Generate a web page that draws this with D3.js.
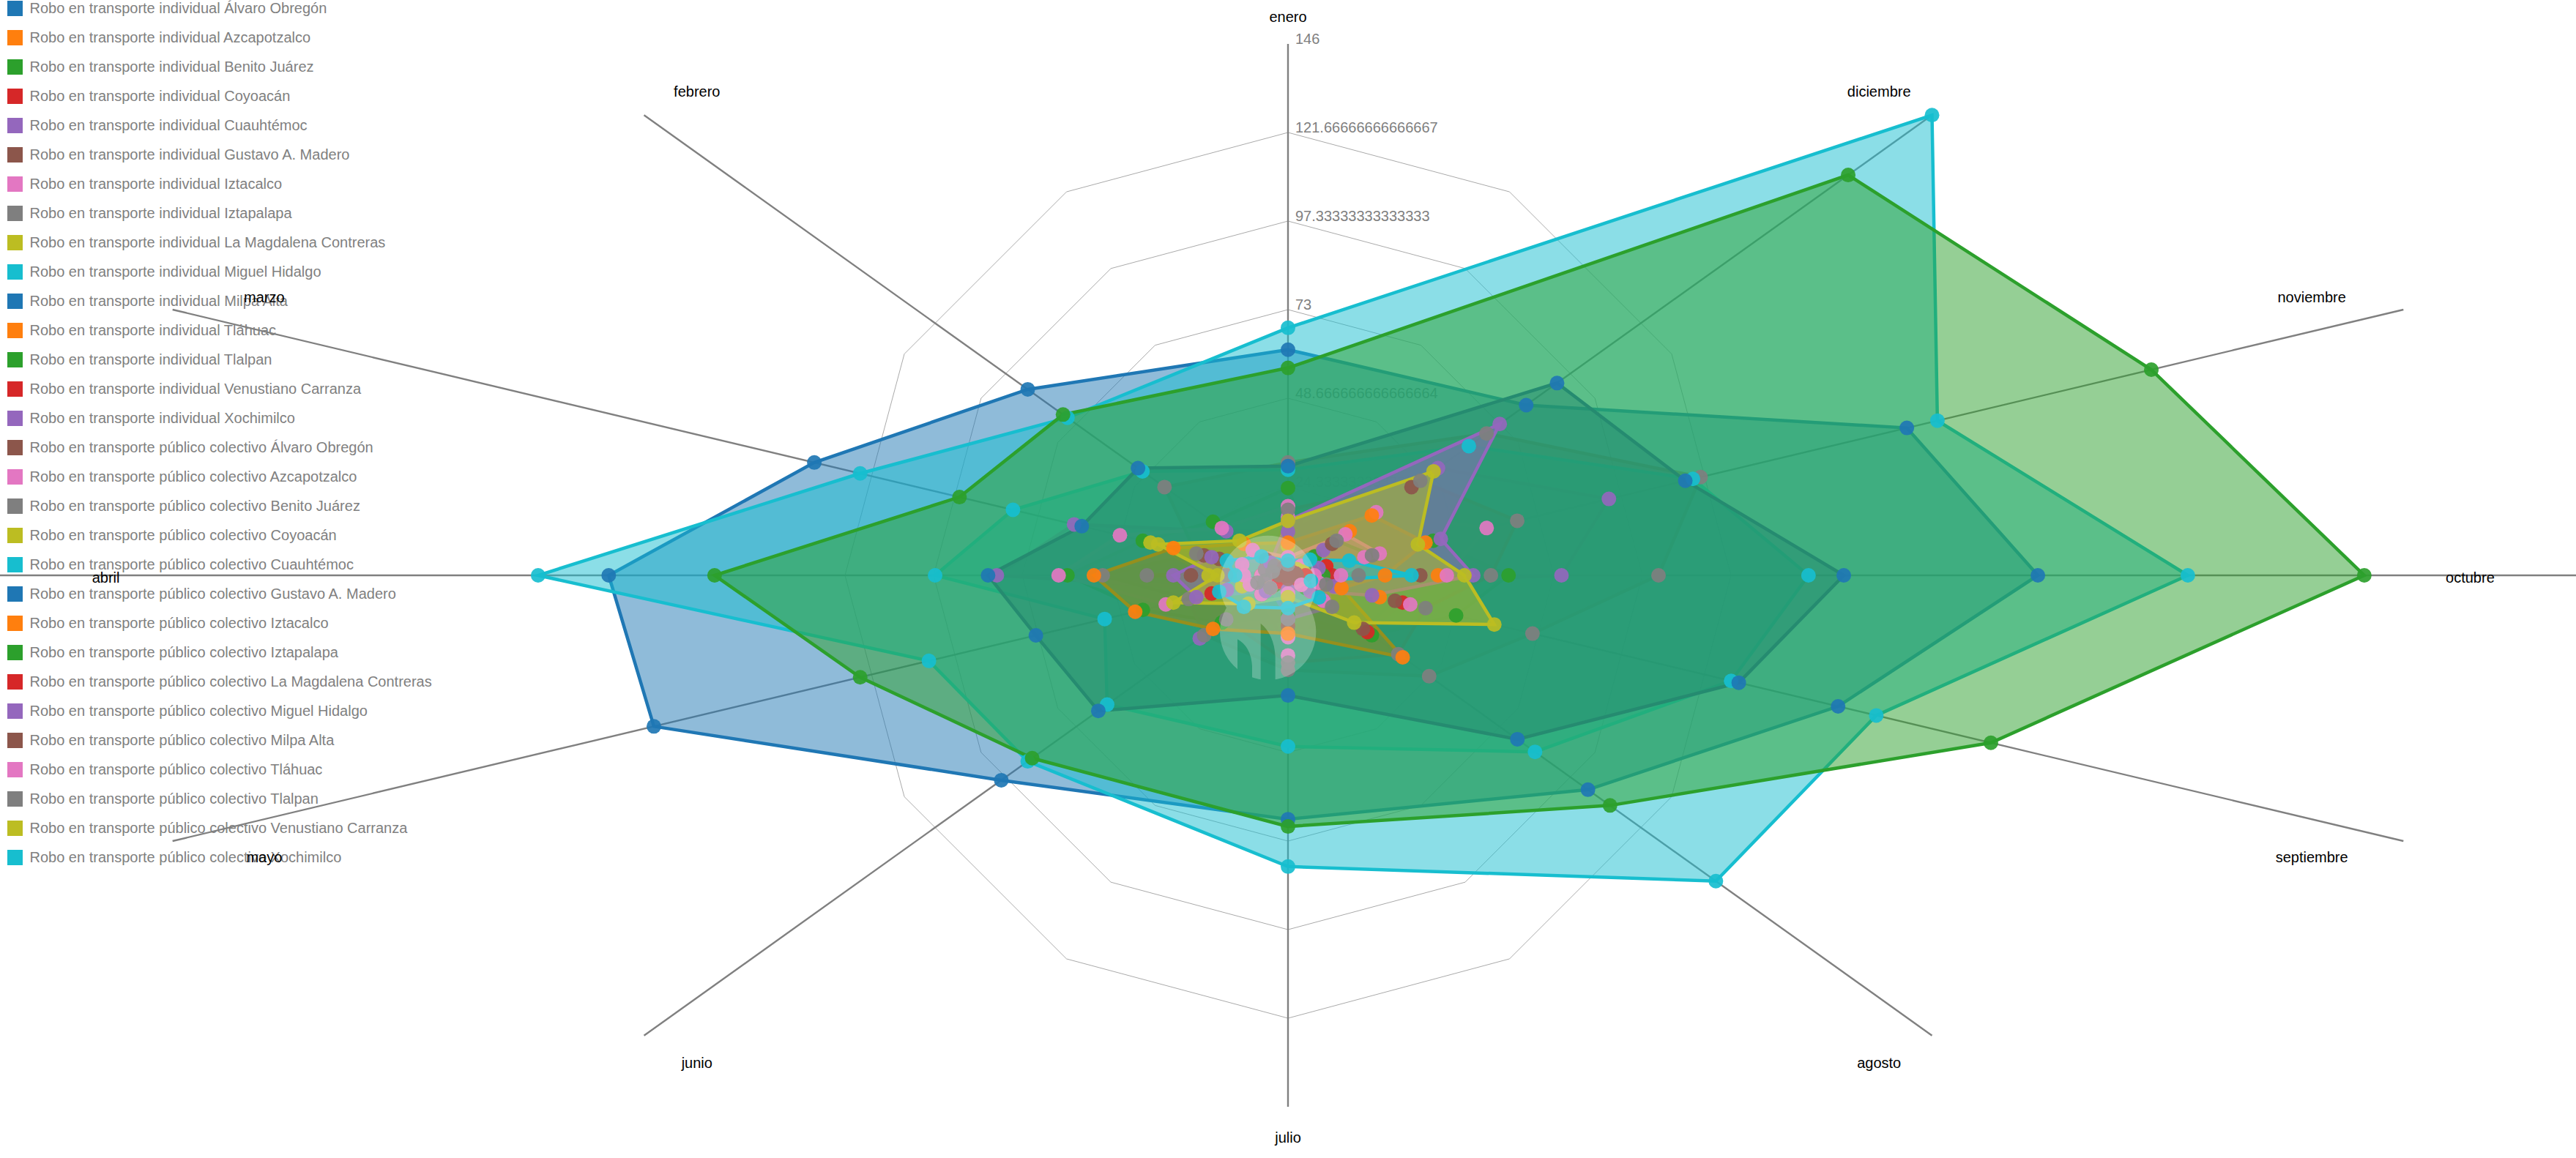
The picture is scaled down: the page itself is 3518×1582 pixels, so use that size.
<!DOCTYPE html>
<html><head><meta charset="utf-8">
<script src="https://cdn.jsdelivr.net/npm/d3@7/dist/d3.min.js"></script>
<style>html,body{margin:0;padding:0;background:#fff;overflow:hidden}svg{display:block;font-family:"Liberation Sans",Arial,sans-serif}</style>
</head><body><svg id="c" width="3518" height="1582"></svg>
<script>
const months=["enero","febrero","marzo","abril","mayo","junio","julio","agosto","septiembre","octubre","noviembre","diciembre"];
const tickValues=[24.333333333333332,48.666666666666664,73,97.33333333333333,121.66666666666667,146];
const alcaldias=["Álvaro Obregón","Azcapotzalco","Benito Juárez","Coyoacán","Cuauhtémoc","Gustavo A. Madero","Iztacalco","Iztapalapa","La Magdalena Contreras","Miguel Hidalgo","Milpa Alta","Tláhuac","Tlalpan","Venustiano Carranza","Xochimilco"];
const individualNames=alcaldias.map(a=>"Robo en transporte individual "+a);
const colectivoNames=alcaldias.map(a=>"Robo en transporte público colectivo "+a);
const seriesNames=individualNames.concat(colectivoNames);
const palette=["#1f77b4","#ff7f0e","#2ca02c","#d62728","#9467bd","#8c564b","#e377c2","#7f7f7f","#bcbd22","#17becf"];
const individualValues=[
 [62,59,62,77,83,65,67,68,72,85,81,54],
 [2,3,2,3,3,4,4,5,12,17,5,14],
 [24,17,19,25,19,15,11,19,22,25,19,6],
 [2,2,3,3,10,3,3,18,15,5,5,3],
 [12,14,28,33,8,20,12,8,6,31,42,34],
 [4,5,11,11,4,6,14,17,14,15,3,28],
 [19,15,22,26,16,6,22,8,16,18,26,20],
 [31,28,12,21,13,19,26,32,32,42,54,45],
 [1,0,1,1,0,2,1,0,1,1,0,1],
 [29,33,36,40,24,41,47,56,58,59,53,41],
 [0,1,0,0,1,0,0,1,0,0,1,0],
 [1,1,0,1,1,2,1,1,1,1,1,1],
 [1,2,2,2,2,3,2,4,2,4,3,2],
 [2,1,2,1,1,1,1,1,1,2,1,1],
 [1,1,1,1,1,1,1,1,1,1,4,8]
];
const colectivoValues=[
 [1,1,9,2,1,1,2,3,2,2,2,10],
 [16,3,3,3,2,2,17,2,2,3,10,3],
 [18,4,3,16,3,14,24,25,18,23,30,30],
 [8,3,18,9,6,4,2,2,2,2,2,2],
 [68,50,56,85,47,59,80,97,77,102,85,146],
 [30,34,27,34,33,43,33,52,59,63,52,61],
 [9,10,15,22,20,17,16,26,7,11,18,19],
 [57,51,43,65,56,58,69,73,92,122,113,127],
 [1,2,1,1,1,2,1,1,1,2,1,1],
 [15,4,10,13,12,5,4,5,11,21,20,48],
 [1,0,1,1,0,0,1,0,0,1,1,0],
 [5,8,6,5,5,4,5,3,4,6,12,13],
 [3,3,2,7,4,4,12,10,5,8,11,11],
 [15,11,17,8,15,9,6,15,27,20,17,33],
 [4,6,8,6,9,10,9,7,3,14,8,5]
];
const values=individualValues.concat(colectivoValues);

const W=3518,H=1582,cx=1759,cy=786,maxV=146;
const svg=d3.select("#c");
const color=d3.scaleOrdinal().domain(d3.range(10)).range(palette);
const rx=d3.scaleLinear().domain([0,maxV]).range([0,1759]);
const ry=d3.scaleLinear().domain([0,maxV]).range([0,726]);
const ang=d3.scalePoint().domain(months).range([0,-2*Math.PI*11/12]);
const px=(m,v)=>cx+rx(v)*Math.sin(ang(m));
const py=(m,v)=>cy-ry(v)*Math.cos(ang(m));
const gridPt=(m,v)=>[cx+ry(v)*Math.sin(ang(m)),py(m,v)];

// legend
const lg=svg.append("g").selectAll("g").data(seriesNames).join("g")
  .attr("transform",(d,i)=>`translate(10,${40*i+1})`);
lg.append("rect").attr("width",21).attr("height",21).attr("fill",(d,i)=>color(i%10));
lg.append("text").attr("x",30.5).attr("y",17).attr("font-size",20).attr("fill","#808080").text(d=>d);

// grid rings
const ringLine=d3.line().curve(d3.curveLinearClosed);
svg.append("g").selectAll("path").data(tickValues.slice(0,5)).join("path")
  .attr("d",t=>ringLine(months.map(m=>gridPt(m,t))))
  .attr("fill","none").attr("stroke","#aaaaaa").attr("stroke-width",1);
// spokes
svg.append("g").selectAll("line").data(months).join("line")
  .attr("x1",cx).attr("y1",cy)
  .attr("x2",m=>px(m,maxV)).attr("y2",m=>py(m,maxV))
  .attr("stroke","#808080").attr("stroke-width",2.4);
// ticks
svg.append("g").selectAll("text").data(tickValues).join("text")
  .attr("x",cx+10).attr("y",t=>cy-ry(t)).attr("font-size",20).attr("fill","#808080").text(t=>String(t));
// month labels
svg.append("g").selectAll("text").data(months).join("text")
  .attr("x",m=>cx+rx(134)*Math.sin(ang(m)))
  .attr("y",m=>cy-ry(154)*Math.cos(ang(m))+9.5)
  .attr("text-anchor","middle").attr("font-size",20).attr("fill","#000").text(m=>m);

// polygons
const shape=d3.line().x(d=>d[0]).y(d=>d[1]).curve(d3.curveLinearClosed);
svg.append("g").selectAll("path").data(values).join("path")
  .attr("d",s=>shape(s.map((v,j)=>[px(months[j],v),py(months[j],v)])))
  .attr("fill",(s,i)=>color(i%10)).attr("fill-opacity",0.5)
  .attr("stroke",(s,i)=>color(i%10)).attr("stroke-width",4.5).attr("stroke-linejoin","miter");
// dots
svg.append("g").selectAll("g").data(values).join("g")
  .attr("fill",(s,i)=>color(i%10)).attr("fill-opacity",0.92)
  .selectAll("circle").data(s=>s.map((v,j)=>({v,m:months[j]}))).join("circle")
  .attr("cx",d=>px(d.m,d.v)).attr("cy",d=>py(d.m,d.v)).attr("r",10);

// watermark
const defs=svg.append("defs");
const mask=defs.append("mask").attr("id","wm").attr("maskUnits","userSpaceOnUse")
  .attr("x",0).attr("y",0).attr("width",W).attr("height",H);
const mg=mask.append("g").attr("transform","translate(1640,710) scale(0.3333)");
mg.append("circle").attr("cx",275).attr("cy",262).attr("r",197).attr("fill","#fff");
mg.append("circle").attr("cx",275).attr("cy",460).attr("r",197).attr("fill","#fff");
mg.append("path").attr("d","M150,700L150,490Q205,520 210,600L210,700Z").attr("fill","#000");
mg.append("path").attr("d","M245,700L245,425Q300,470 305,560L305,700Z").attr("fill","#000");
svg.append("rect").attr("x",1640).attr("y",710).attr("width",180).attr("height",240)
  .attr("fill","#fff").attr("fill-opacity",0.25).attr("mask","url(#wm)");
</script></body></html>
